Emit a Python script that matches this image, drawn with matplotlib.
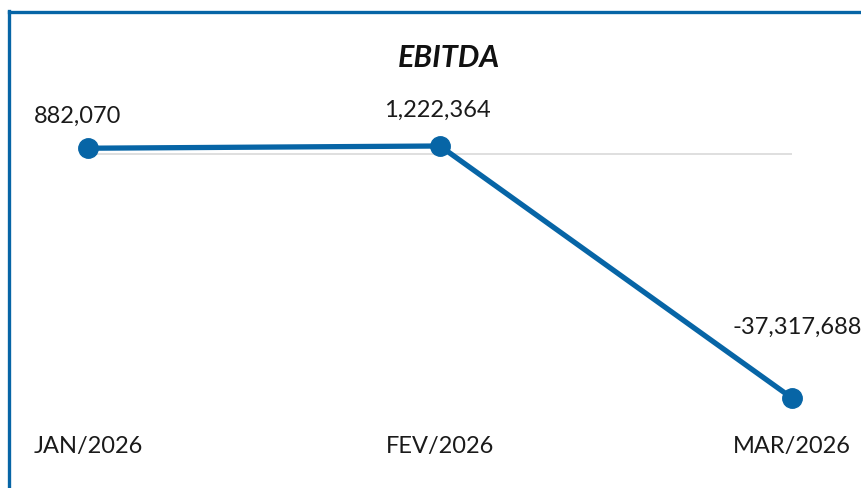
import matplotlib
matplotlib.use("Agg")
import matplotlib.pyplot as plt
from matplotlib.lines import Line2D

months = ["JAN/2026", "FEV/2026", "MAR/2026"]
ebitda = [882070, 1222364, -37317688]

# label offsets (points) so the value labels sit like in the dashboard
label_dx = [-7.5, -2, 3.6]
label_dy = [23, 26, 51]

blue = "#0765a6"
plt.rcParams['font.family'] = ['Lato', 'DejaVu Sans']

fig = plt.figure(figsize=(8.62, 4.88), dpi=100)
ax = fig.add_axes([0, 0, 1, 1])
ax.set_xlim(-0.25, 2.199)
ax.set_ylim(-51.08e6, 23.55e6)
ax.axis("off")

x = list(range(len(months)))
ax.hlines(0, x[0], x[-1], color="#d9d9d9", linewidth=1.2, zorder=1)
ax.plot(x, ebitda, color=blue, linewidth=3.8, marker="o", markersize=14, zorder=3)

for xi, v, m, dx, dy in zip(x, ebitda, months, label_dx, label_dy):
    ax.annotate(f"{v:,}", (xi, v), xytext=(dx, dy), textcoords="offset points",
                ha="center", va="center", fontsize=17, color="#1a1a1a")
    ax.annotate(m, (xi, 0), xycoords=("data", "figure pixels"),
                xytext=(xi, 41), textcoords=("data", "figure pixels"),
                ha="center", va="center", fontsize=17, color="#1a1a1a")

fig.text(0.521, 0.881, "EBITDA", ha="center", va="center", fontsize=22,
         fontweight="bold", fontstyle="italic", color="#111111")

# panel border on top and left
fig.add_artist(Line2D([0.0104, 1.0], [0.975, 0.975], transform=fig.transFigure, color=blue, linewidth=2.4))
fig.add_artist(Line2D([0.0110, 0.0110], [0.0, 0.977], transform=fig.transFigure, color=blue, linewidth=2.4))

fig.savefig("out.png", dpi=100)
